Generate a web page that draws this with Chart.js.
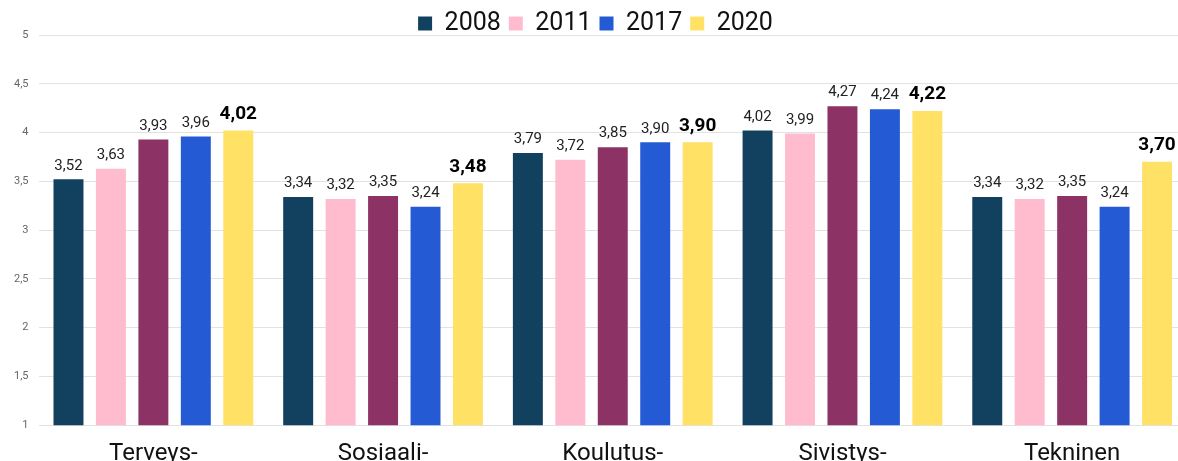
<!DOCTYPE html>
<html>
<head>
<meta charset="utf-8">
<script src="https://cdn.jsdelivr.net/npm/chart.js@4/dist/chart.umd.min.js"></script>
<style>
  html, body { margin: 0; padding: 0; background: #fff; }
  #frame { width: 1178px; height: 461px; overflow: hidden; position: relative; }
  #wrap { width: 1192px; height: 474px; position: absolute; left: 0; top: 0; }
</style>
</head>
<body>
<div id="frame"><div id="wrap"><canvas id="chart"></canvas></div></div>
<script>
const categories = ['Terveys-', 'Sosiaali-', 'Koulutus-', 'Sivistys-', 'Tekninen'];
const years = ['2008', '2011', '2014', '2017', '2020'];
const values2008 = [3.52, 3.34, 3.79, 4.02, 3.34];
const values2011 = [3.63, 3.32, 3.72, 3.99, 3.32];
const values2014 = [3.93, 3.35, 3.85, 4.27, 3.35];
const values2017 = [3.96, 3.24, 3.90, 4.24, 3.24];
const values2020 = [4.02, 3.48, 3.90, 4.22, 3.70];
const colors = ['#12405f', '#ffbccf', '#8d3265', '#245bd4', '#ffe166'];
const legendYears = ['2008', '2011', '2017', '2020'];

const fmt = v => v.toFixed(2).replace('.', ',');

// value labels above every bar; the latest year is set in bold
const barValues = {
  id: 'barValues',
  afterDatasetsDraw(chart) {
    const ctx = chart.ctx;
    ctx.save();
    ctx.textAlign = 'center';
    ctx.textBaseline = 'bottom';
    chart.data.datasets.forEach((ds, i) => {
      const meta = chart.getDatasetMeta(i);
      const last = i === chart.data.datasets.length - 1;
      ctx.font = last ? 'bold 19px Roboto' : '15px Roboto';
      ctx.fillStyle = last ? '#000' : '#222';
      meta.data.forEach((bar, j) => {
        ctx.fillText(fmt(ds.data[j]), bar.x, bar.y - (last ? 7 : 6));
      });
    });
    ctx.restore();
  }
};

// pull the plot up closer to the legend
const tightLegend = {
  id: 'tightLegend',
  beforeLayout(chart) {
    const lg = chart.legend;
    if (!lg || lg._tight) return;
    const fit = lg.fit;
    lg.fit = function () { fit.call(this); this.height -= 11; };
    lg._tight = true;
  }
};

new Chart(document.getElementById('chart'), {
  type: 'bar',
  data: {
    labels: categories,
    datasets: [values2008, values2011, values2014, values2017, values2020].map((d, i) => ({
      label: years[i],
      data: d,
      backgroundColor: colors[i],
      categoryPercentage: 0.924,
      barPercentage: 0.706
    }))
  },
  options: {
    responsive: true,
    maintainAspectRatio: false,
    animation: false,
    layout: { padding: { left: 4, right: 5, top: 3 } },
    plugins: {
      legend: {
        position: 'top',
        labels: {
          filter: item => legendYears.includes(item.text),
          boxWidth: 14,
          boxHeight: 14,
          padding: 8,
          color: '#111',
          font: { family: 'Roboto', size: 25 }
        }
      },
      tooltip: { enabled: false }
    },
    scales: {
      x: {
        grid: { display: false },
        border: { display: false },
        ticks: { color: '#111', padding: 6, font: { family: 'Roboto', size: 24 } }
      },
      y: {
        min: 1,
        max: 5,
        grid: { color: '#e2e2e2', drawTicks: false },
        border: { display: false },
        ticks: {
          stepSize: 0.5,
          padding: 10,
          color: '#666',
          font: { family: 'Roboto', size: 11 },
          callback: v => String(v).replace('.', ',')
        }
      }
    }
  },
  plugins: [barValues, tightLegend]
});
</script>
</body>
</html>
